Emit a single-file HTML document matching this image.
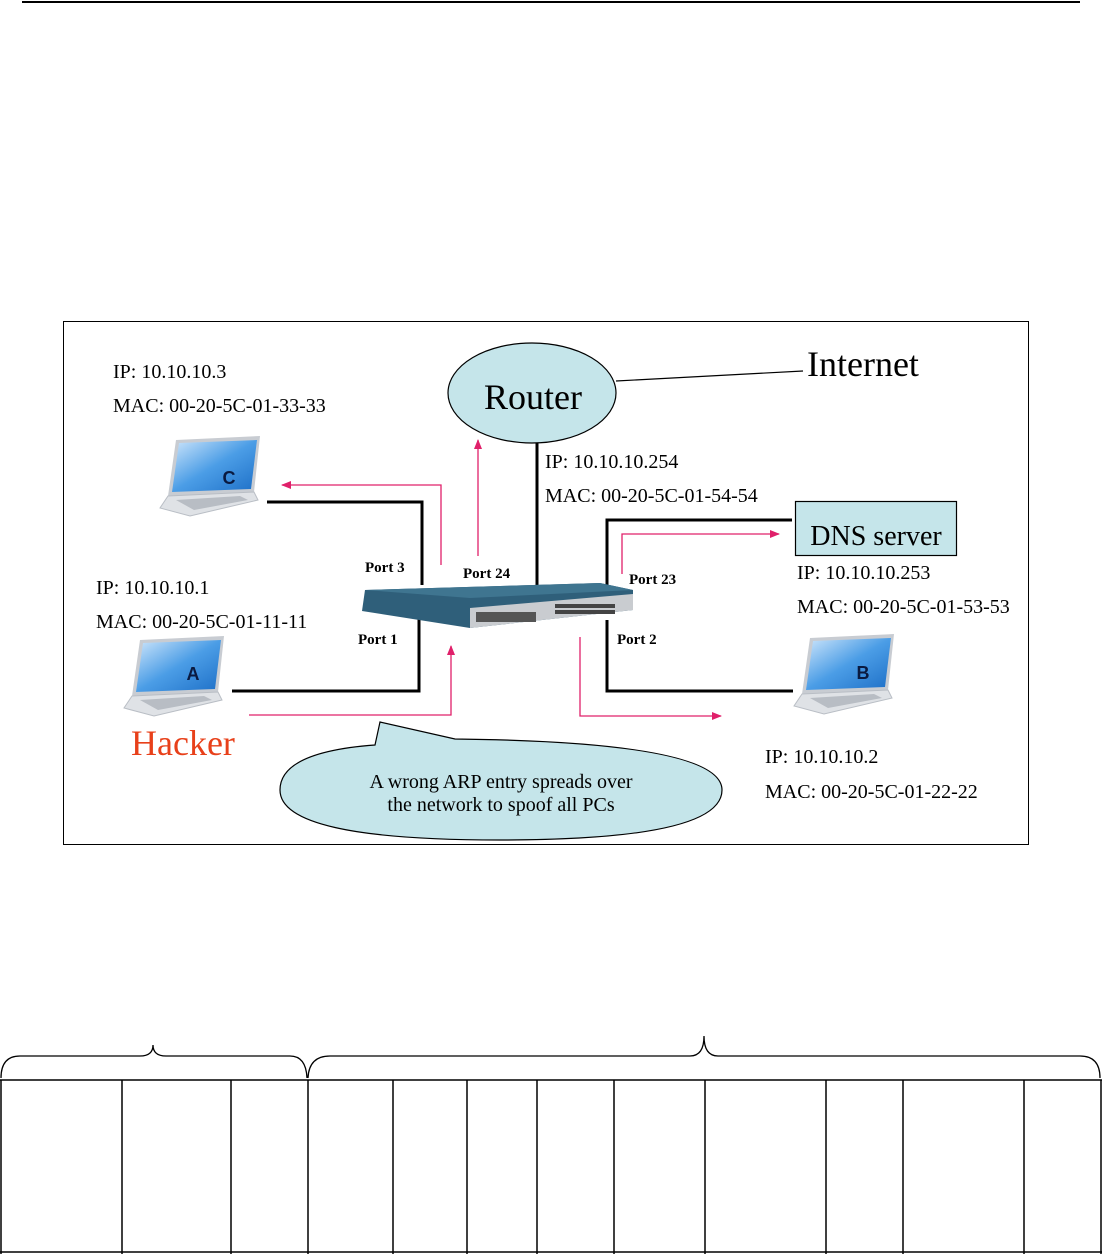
<!DOCTYPE html>
<html><head><meta charset="utf-8"><style>
html,body{margin:0;padding:0;background:#fff}
svg{display:block}
text{font-family:"Liberation Serif",serif}
text.s{font-family:"Liberation Sans",sans-serif}
</style></head><body>
<svg width="1102" height="1254" viewBox="0 0 1102 1254" xmlns="http://www.w3.org/2000/svg">
<defs>
<marker id="ah" markerWidth="10" markerHeight="8" refX="9" refY="4" orient="auto" markerUnits="userSpaceOnUse"><path d="M0,0 L10,4 L0,8 z" fill="#e0206a"/></marker>
<linearGradient id="scr" x1="0" y1="0" x2="1" y2="1"><stop offset="0" stop-color="#cfe6fb"/><stop offset="0.5" stop-color="#4b9de6"/><stop offset="1" stop-color="#1d6fc7"/></linearGradient>
<g id="laptop">
<polygon points="16,0 100,-4 94,52 8,56" fill="#c8ccd2"/>
<polygon points="19,3 97,0 91,49 12,52" fill="url(#scr)"/>
<polygon points="8,56 94,52 98,60 30,76 0,68" fill="#dfe2e6" stroke="#b9bec5" stroke-width="1"/>
<polygon points="16,60 80,56 88,60 34,70" fill="#b8bdc4"/>
</g>
</defs>
<line x1="22" y1="2" x2="1080" y2="2" stroke="#000" stroke-width="2"/>
<rect x="63.5" y="321.5" width="965" height="523" fill="#fff" stroke="#000" stroke-width="1"/>

<g stroke="#000" stroke-width="3" fill="none">
<path d="M267,502 H422 V585"/>
<path d="M232,691 H419 V618"/>
<path d="M537,440 V585"/>
<path d="M607,586 V520 H792"/>
<path d="M607,620 V691 H793"/>
</g>
<line x1="616" y1="381" x2="803" y2="371" stroke="#000" stroke-width="1.2"/>

<g stroke="#e0206a" stroke-width="1.3" fill="none">
<path d="M441,565 V485 H282" marker-end="url(#ah)"/>
<path d="M478,556 V440" marker-end="url(#ah)"/>
<path d="M622,574 V534 H779" marker-end="url(#ah)"/>
<path d="M249,715 H451 V646" marker-end="url(#ah)"/>
<path d="M580,637 V716 H721" marker-end="url(#ah)"/>
</g>

<ellipse cx="532" cy="393" rx="84" ry="50" fill="#c5e5ea" stroke="#000" stroke-width="1.2"/>
<text x="533" y="409" font-size="36" text-anchor="middle">Router</text>
<text x="807" y="376" font-size="36">Internet</text>

<rect x="795.5" y="501.5" width="161" height="54" fill="#c5e5ea" stroke="#000" stroke-width="1.2"/>
<text x="876" y="545" font-size="28" text-anchor="middle">DNS server</text>

<polygon points="365,590 600,583 633,590 633,610 470,628 362,611" fill="#2f5f7a"/>
<polygon points="365,590 600,583 633,590 470,598" fill="#3f7590"/>
<polygon points="470,608 633,594 633,610 470,628" fill="#c9ccd0"/>
<rect x="476" y="612" width="60" height="10" fill="#555"/>
<g fill="#444"><rect x="555" y="604" width="60" height="4"/><rect x="555" y="610" width="60" height="4"/></g>

<use href="#laptop" x="160" y="440"/>
<text class="s" x="229" y="484" text-anchor="middle" font-size="18" font-weight="bold" fill="#0a1a40">C</text>
<use href="#laptop" x="124" y="640"/>
<text class="s" x="193" y="680" text-anchor="middle" font-size="18" font-weight="bold" fill="#0a1a40">A</text>
<use href="#laptop" x="794" y="638"/>
<text class="s" x="863" y="679" text-anchor="middle" font-size="18" font-weight="bold" fill="#0a1a40">B</text>

<g font-size="20">
<text x="113" y="378">IP: 10.10.10.3</text>
<text x="113" y="412">MAC: 00-20-5C-01-33-33</text>
<text x="545" y="468">IP: 10.10.10.254</text>
<text x="545" y="502">MAC: 00-20-5C-01-54-54</text>
<text x="96" y="594">IP: 10.10.10.1</text>
<text x="96" y="628">MAC: 00-20-5C-01-11-11</text>
<text x="797" y="579">IP: 10.10.10.253</text>
<text x="797" y="613">MAC: 00-20-5C-01-53-53</text>
<text x="765" y="763">IP: 10.10.10.2</text>
<text x="765" y="798">MAC: 00-20-5C-01-22-22</text>
</g>
<g font-size="15" font-weight="bold">
<text x="365" y="572">Port 3</text>
<text x="463" y="578">Port 24</text>
<text x="629" y="584">Port 23</text>
<text x="358" y="644">Port 1</text>
<text x="617" y="644">Port 2</text>
</g>
<text x="131" y="755" font-size="36" fill="#e8401a">Hacker</text>

<path d="M380,722 L455,739 Q722,742 722,790 Q722,840 500,840 Q280,840 280,790 Q280,752 375,745 Z" fill="#c5e5ea" stroke="#000" stroke-width="1.2"/>
<text x="501" y="788" font-size="20" text-anchor="middle">A wrong ARP entry spreads over</text>
<text x="501" y="811" font-size="20" text-anchor="middle">the network to spoof all PCs</text>

<g stroke="#000" stroke-width="1.3" fill="none">
<path d="M1,1078 Q1,1056 20,1056 H140 Q153,1056 153,1045 Q153,1056 166,1056 H290 Q306,1056 307,1078"/>
<path d="M308,1078 Q309,1056 330,1056 H690 Q704,1056 704,1036 Q704,1056 718,1056 H1080 Q1100,1056 1100,1078"/>
</g>
<g stroke="#000" stroke-width="1.5">
<line x1="0" y1="1080" x2="1102" y2="1080"/>
<line x1="0" y1="1252" x2="1102" y2="1252"/>
<line x1="1" y1="1080" x2="1" y2="1254"/>
<line x1="122" y1="1080" x2="122" y2="1254"/>
<line x1="231" y1="1080" x2="231" y2="1254"/>
<line x1="308" y1="1080" x2="308" y2="1254"/>
<line x1="393" y1="1080" x2="393" y2="1254"/>
<line x1="467" y1="1080" x2="467" y2="1254"/>
<line x1="537" y1="1080" x2="537" y2="1254"/>
<line x1="614" y1="1080" x2="614" y2="1254"/>
<line x1="705" y1="1080" x2="705" y2="1254"/>
<line x1="826" y1="1080" x2="826" y2="1254"/>
<line x1="903" y1="1080" x2="903" y2="1254"/>
<line x1="1024" y1="1080" x2="1024" y2="1254"/>
<line x1="1101" y1="1080" x2="1101" y2="1254"/>
</g>
</svg>
</body></html>
